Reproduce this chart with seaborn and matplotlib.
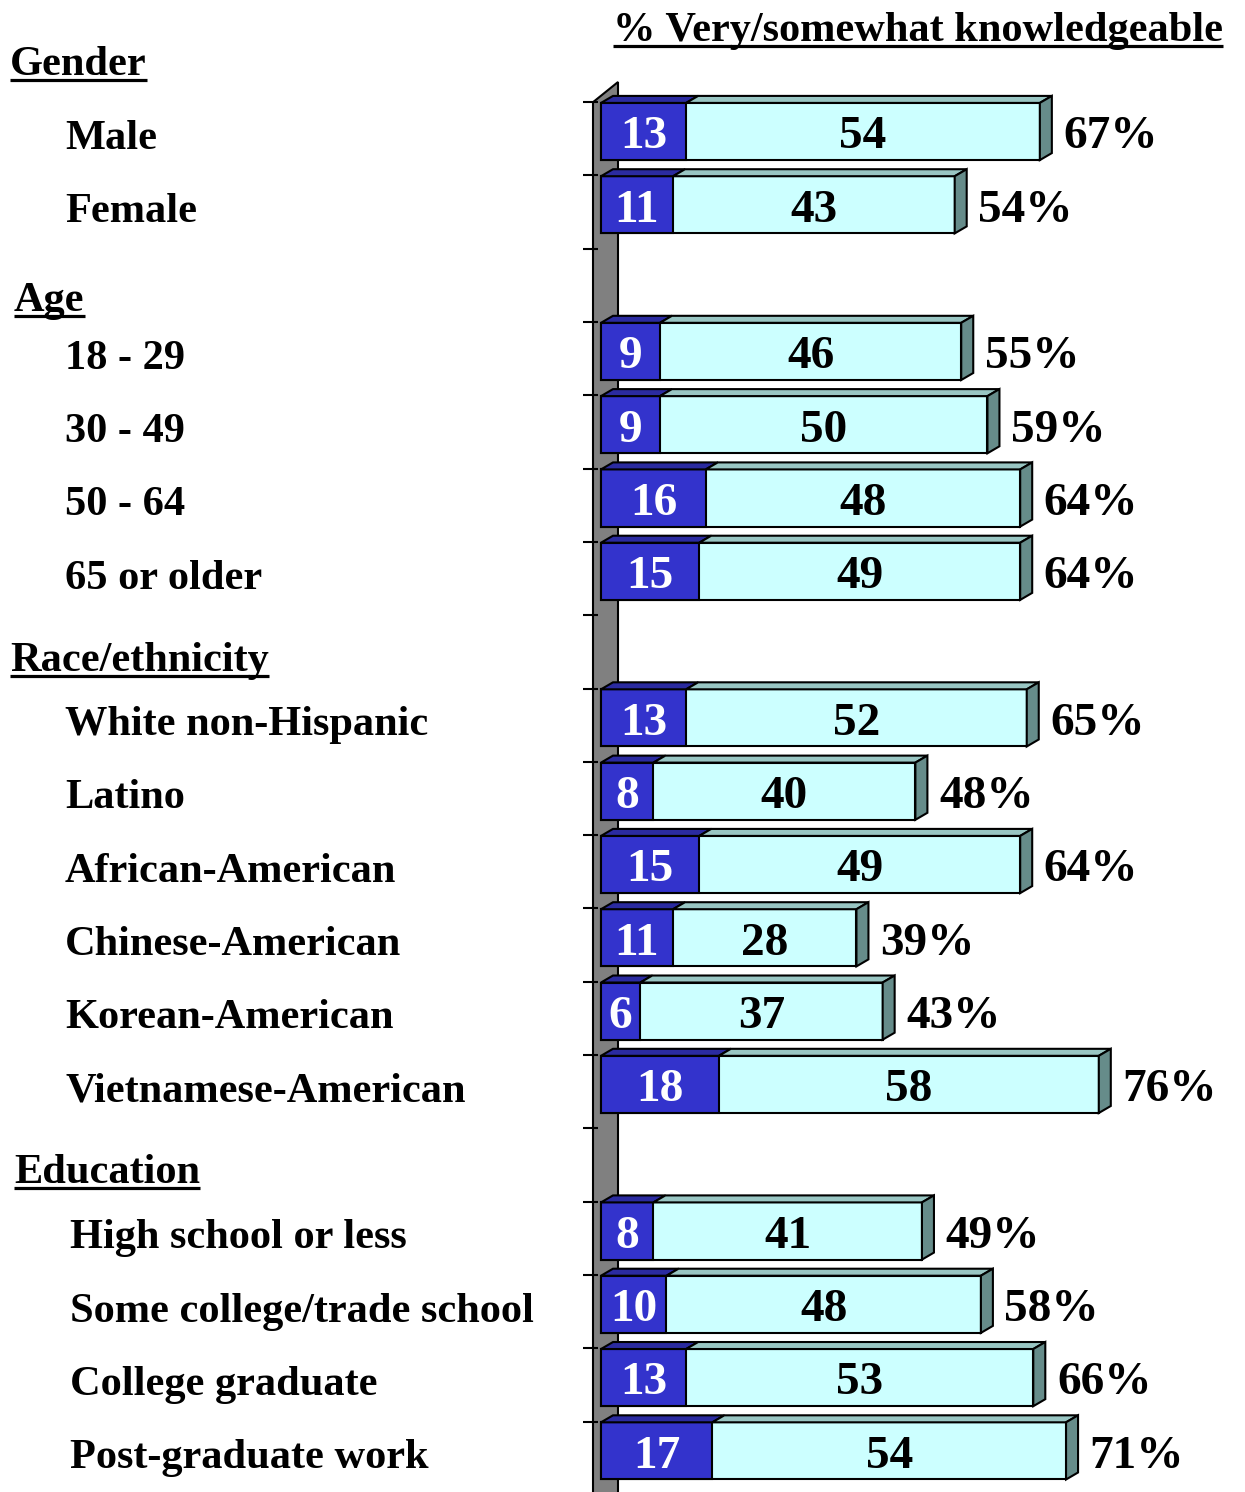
import matplotlib
matplotlib.use("Agg")
import matplotlib.pyplot as plt
from matplotlib.patches import Polygon
import seaborn as sns
import pandas as pd

# ---- data ------------------------------------------------------------------
title = "% Very/somewhat knowledgeable"
sections = ["Gender", "Age", "Race/ethnicity", "Education"]
section_groups = [
    ["Male", "Female"],
    ["18 - 29", "30 - 49", "50 - 64", "65 or older"],
    ["White non-Hispanic", "Latino", "African-American", "Chinese-American",
     "Korean-American", "Vietnamese-American"],
    ["High school or less", "Some college/trade school", "College graduate",
     "Post-graduate work"],
]
very = [13, 11, 9, 9, 16, 15, 13, 8, 15, 11, 6, 18, 8, 10, 13, 17]
somewhat = [54, 43, 46, 50, 48, 49, 52, 40, 49, 28, 37, 58, 41, 48, 53, 54]

# ---- style / layout --------------------------------------------------------
BLUE, BLUE_TOP = "#3333CC", "#2B2BA0"
CYAN, CYAN_TOP, SIDE = "#CCFFFF", "#99C6C3", "#668C8A"
WALL = "#808080"
W, H = 1245, 1492
X0, PX_UNIT = 601, 6.55      # pixel of value 0, pixels per percentage point
Y0, ROW_PX = 131.5, 73.3     # pixel of first row centre, pixels per row
DX, DY = 12 / PX_UNIT, 7 / ROW_PX   # 3-D depth offset in data units
LW = 1.5
LABEL_FS, NUM_FS = 30.5, 34
label_x = [65, 65, 65, 70]
header_x = [10, 14, 10, 14]
header_off = [0.23, 0.45, 0.36, 0.34]

sns.set_style("white")
plt.rcParams["font.family"] = ["Liberation Serif", "DejaVu Serif"]
plt.rcParams["font.weight"] = "bold"
plt.rcParams["text.color"] = "black"


def px_x(p):
    return (p - X0) / PX_UNIT


# category order with blank spacer rows between sections
order, header_rows, label_rows = [], [], []
for s, grp in enumerate(section_groups):
    if s == 0:
        header_rows.append(-1)
    else:
        order.append(" " * s)
        header_rows.append(len(order) - 1)
    for g in grp:
        label_rows.append((len(order), g, label_x[s]))
        order.append(g)

groups = [g for grp in section_groups for g in grp]
df = pd.DataFrame({"group": groups, "very": very, "somewhat": somewhat})
df["total"] = df["very"] + df["somewhat"]

fig = plt.figure(figsize=(W / 100, H / 100), dpi=100)
ax = fig.add_axes([0, 0, 1, 1])

n0 = len(ax.patches)
sns.barplot(data=df, x="total", y="group", order=order, orient="h", width=0.78,
            color=CYAN, saturation=1, edgecolor="black", linewidth=LW,
            errorbar=None, ax=ax, zorder=3)
total_bars = ax.patches[n0:]
n1 = len(ax.patches)
sns.barplot(data=df, x="very", y="group", order=order, orient="h", width=0.78,
            color=BLUE, saturation=1, edgecolor="black", linewidth=LW,
            errorbar=None, ax=ax, zorder=4)
very_bars = ax.patches[n1:]

ax.set_xlim(px_x(0), px_x(W))
ax.set_ylim((H - Y0) / ROW_PX, -Y0 / ROW_PX)
ax.set_axis_off()

# back wall + category ticks
wall = Polygon([(px_x(593), 19), (px_x(593), -0.40), (px_x(618), -0.675),
                (px_x(618), 19)], closed=True, facecolor=WALL,
               edgecolor="black", linewidth=LW, zorder=1)
ax.add_patch(wall)
for k in range(len(order) + 1):
    ax.plot([px_x(583), px_x(598)], [k - 0.4, k - 0.4], color="black",
            lw=LW, zorder=2, solid_capstyle="butt")

# 3-D faces and value labels
for tb, vb in zip(total_bars, very_bars):
    tot, v = tb.get_width(), vb.get_width()
    if tot == 0 or pd.isna(tot):
        continue
    yt, h = tb.get_y(), tb.get_height()
    yc = yt + h / 2
    for x0, x1, fc in [(0, v, BLUE_TOP), (v, tot, CYAN_TOP)]:
        ax.add_patch(Polygon([(x0, yt), (x1, yt), (x1 + DX, yt - DY),
                              (x0 + DX, yt - DY)], closed=True, facecolor=fc,
                             edgecolor="black", linewidth=LW, zorder=5))
    ax.add_patch(Polygon([(tot, yt), (tot + DX, yt - DY),
                          (tot + DX, yt + h - DY), (tot, yt + h)], closed=True,
                         facecolor=SIDE, edgecolor="black", linewidth=LW,
                         zorder=5))
    ax.text(v / 2, yc + 0.23, f"{v:.0f}", color="white", fontsize=NUM_FS,
            ha="center", va="baseline", zorder=6)
    ax.text((v + tot) / 2, yc + 0.23, f"{tot - v:.0f}", color="black",
            fontsize=NUM_FS, ha="center", va="baseline", zorder=6)
    ax.text(tot + 3.6, yc + 0.23, f"{tot:.0f}%", color="black",
            fontsize=NUM_FS, ha="left", va="baseline", zorder=6)

# left-hand labels
for row, name, xp in label_rows:
    ax.text(px_x(xp), row + 0.235, name, fontsize=LABEL_FS, ha="left",
            va="baseline")

underlined = []
for s, name in enumerate(sections):
    y = header_rows[s] + header_off[s]
    t = ax.text(px_x(header_x[s]), y, name, fontsize=LABEL_FS, ha="left",
                va="baseline")
    underlined.append((t, y))

t = ax.text(px_x(613), (41 - Y0) / ROW_PX, title, fontsize=LABEL_FS,
            ha="left", va="baseline")
underlined.append((t, (41 - Y0) / ROW_PX))

# underline the headers and the title
fig.canvas.draw()
renderer = fig.canvas.get_renderer()
inv = ax.transData.inverted()
for t, y in underlined:
    bb = t.get_window_extent(renderer)
    base = ax.transData.transform((0, y))[1]
    (xa, ya), (xb, yb) = inv.transform([(bb.x0, base - 5), (bb.x1, base - 5)])
    ax.plot([xa, xb], [ya, yb], color="black", lw=2.3, solid_capstyle="butt")

fig.savefig("out.png", dpi=100)
